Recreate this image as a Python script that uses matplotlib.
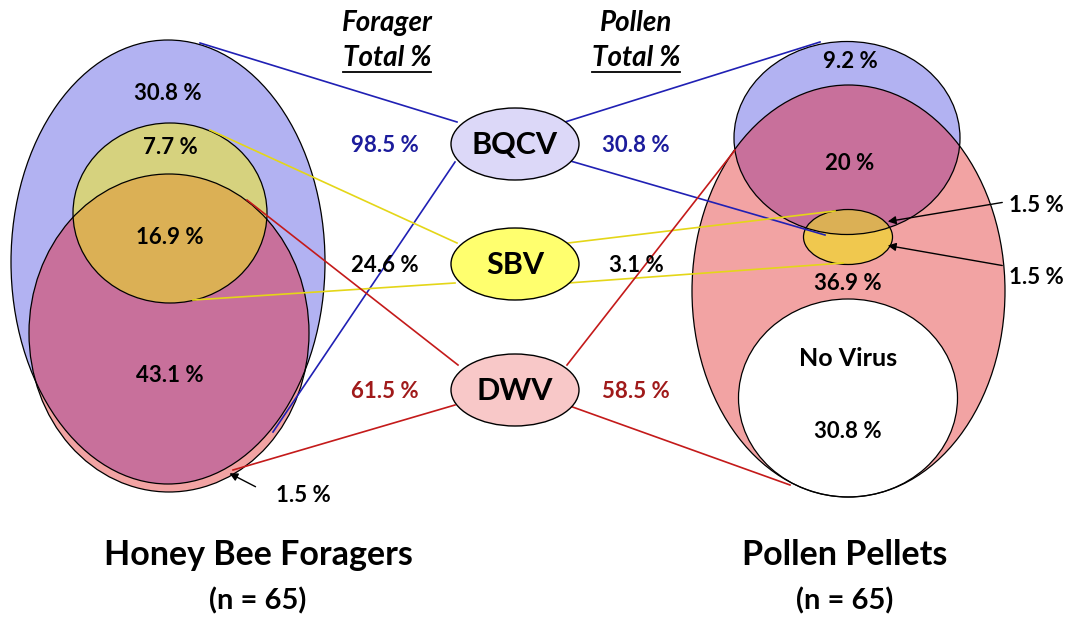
import matplotlib
matplotlib.use("Agg")
import matplotlib.pyplot as plt
from matplotlib.patches import Ellipse

plt.rcParams["font.family"] = ["Lato", "DejaVu Sans"]

# --- data ---
viruses = ["BQCV", "SBV", "DWV"]
forager_total = ["98.5 %", "24.6 %", "61.5 %"]
pollen_total = ["30.8 %", "3.1 %", "58.5 %"]
forager_regions = ["30.8 %", "7.7 %", "16.9 %", "43.1 %", "1.5 %"]
pollen_regions = ["9.2 %", "20 %", "1.5 %", "1.5 %", "36.9 %", "30.8 %"]
groups = ["Honey Bee Foragers", "Pollen Pellets"]
n_samples = [65, 65]

# colours
BLUE = "#b2b2f2"
PINK = "#f2a3a3"
MAGENTA = "#c8709b"
YEL_BLUE = "#d6d27e"
YEL_MAG = "#dbb055"
YEL_PINK = "#f0c84e"
LN_BLUE = "#2020b4"
LN_YEL = "#e4d618"
LN_RED = "#c41a1a"
TX_BLUE = "#1c1c9c"
TX_RED = "#a01a1a"
node_fill = ["#dcd8f8", "#ffff6e", "#f8c8c8"]
line_col = [LN_BLUE, LN_YEL, LN_RED]
txt_col = [TX_BLUE, "black", TX_RED]

fig = plt.figure(figsize=(10.76, 6.17), dpi=100)
ax = fig.add_axes([0, 0, 1, 1])
ax.set_xlim(0, 1076)
ax.set_ylim(617, 0)
ax.axis("off")


def ell(cx, cy, w, h, fc, clip=None, z=1):
    e = Ellipse((cx, cy), w, h, facecolor=fc, edgecolor="none", lw=0, zorder=z)
    ax.add_patch(e)
    if clip is not None:
        e.set_clip_path(clip)
    return e


def outline(cx, cy, w, h):
    ax.add_patch(Ellipse((cx, cy), w, h, facecolor="none",
                         edgecolor="black", lw=0.9, zorder=5))


# --- left diagram (foragers) ---
L_blue = (168, 262, 314, 444)
L_pink = (169, 333, 280, 318)
L_yel = (170, 213, 194, 180)
b = ell(*L_blue, BLUE, z=1)
p = ell(*L_pink, PINK, z=1.5)
ell(*L_pink, MAGENTA, clip=b, z=2)
ell(*L_yel, YEL_BLUE, z=3)
ell(*L_yel, YEL_MAG, clip=p, z=3.5)
for g in (L_blue, L_pink, L_yel):
    outline(*g)

# --- right diagram (pollen) ---
R_pink = (848.5, 291, 313, 412)
R_blue = (847, 138, 226, 193)
R_yel = (848, 237, 89, 55)
R_white = (848, 398, 219, 198)
rp = ell(*R_pink, PINK, z=1)
rb = ell(*R_blue, BLUE, z=1.5)
ell(*R_blue, MAGENTA, clip=rp, z=2)
ell(*R_white, "white", z=2.5)
ell(*R_yel, YEL_PINK, z=3)
ell(*R_yel, YEL_MAG, clip=rb, z=3.5)
for g in (R_pink, R_blue, R_white, R_yel):
    outline(*g)

# --- connecting lines ---
lines = {
    0: [((200, 43), (457, 122)), ((273, 432), (455, 162)),
        ((565, 122), (820, 42)), ((567, 160), (825, 235))],
    1: [((210, 130), (457, 243)), ((193, 300), (455, 283)),
        ((568, 243), (835, 211)), ((568, 283), (843, 263))],
    2: [((247, 200), (458, 365)), ((455, 405), (233, 470)),
        ((567, 365), (735, 150)), ((567, 405), (790, 485))],
}
for i, segs in lines.items():
    for (x0, y0), (x1, y1) in segs:
        ax.plot([x0, x1], [y0, y1], color=line_col[i], lw=1.2, zorder=6)

# --- virus nodes ---
node_y = [144, 264, 390]
for i, v in enumerate(viruses):
    ax.add_patch(Ellipse((515, node_y[i]), 128, 72, facecolor=node_fill[i],
                         edgecolor="black", lw=1.0, zorder=7))
    ax.text(515, node_y[i] + 1, v, ha="center", va="center", fontsize=22,
            fontweight="bold", zorder=8)
    ax.text(385, node_y[i] + 2, forager_total[i], ha="center", va="center",
            fontsize=16, fontweight="bold", color=txt_col[i], zorder=8)
    ax.text(636, node_y[i] + 2, pollen_total[i], ha="center", va="center",
            fontsize=16, fontweight="bold", color=txt_col[i], zorder=8)

# --- headers ---
hdr = []
for x, word in [(387, "Forager"), (636, "Pollen")]:
    ax.text(x, 23, word, ha="center", va="center", fontsize=20,
            fontweight="bold", style="italic")
    hdr.append(ax.text(x, 58, "Total %", ha="center", va="center",
                       fontsize=20, fontweight="bold", style="italic"))
fig.canvas.draw()
inv = ax.transData.inverted()
for t in hdr:
    bb = t.get_window_extent()
    (xa, ya), (xb, yb) = inv.transform([(bb.x0, bb.y0), (bb.x1, bb.y0)])
    ax.plot([xa, xb], [ya + 1, yb + 1], color="black", lw=1.3)

# --- region labels ---
kw = dict(ha="center", va="center", fontsize=16, fontweight="bold", zorder=8)
for (x, y), s in zip([(168, 93), (170, 148), (170, 238), (170, 375), (303, 495)],
                     forager_regions):
    ax.text(x, y, s, **kw)
for (x, y), s in zip([(850, 62), (850, 164), (1036, 205), (1036, 277),
                      (848, 283), (848, 432)], pollen_regions):
    ax.text(x, y, s, **kw)
ax.text(848, 358, "No Virus", ha="center", va="center", fontsize=18,
        fontweight="bold", zorder=8)

# small arrows
arrow = dict(arrowstyle="-|>", color="black", lw=1.0, mutation_scale=12)
for (x0, y0), (x1, y1) in [((258, 488), (227, 472)),
                           ((1005, 202), (885, 222)),
                           ((1005, 266), (885, 245))]:
    ax.annotate("", xy=(x1, y1), xytext=(x0, y0), arrowprops=arrow, zorder=9)

# --- group titles ---
for x, g, n in zip([258, 845], groups, n_samples):
    ax.text(x, 555, g, ha="center", va="center", fontsize=24.5,
            fontweight="bold")
    ax.text(x, 601, f"(n = {n})", ha="center", va="center", fontsize=21,
            fontweight="bold")

fig.savefig("out.png", dpi=100)
